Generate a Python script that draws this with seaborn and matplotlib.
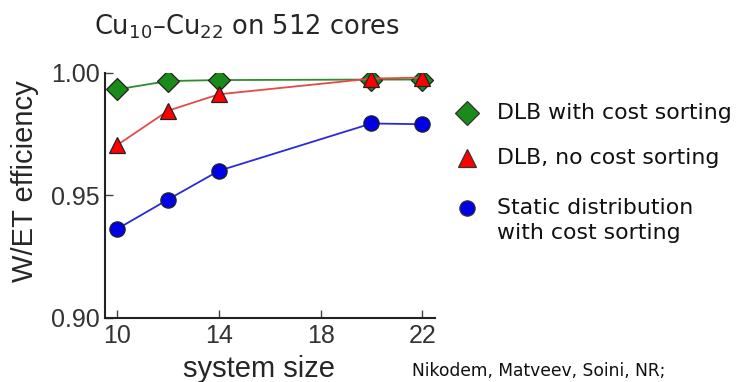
import matplotlib
matplotlib.use("Agg")
import matplotlib.pyplot as plt
import seaborn as sns
import pandas as pd
from matplotlib.lines import Line2D

# ---- data ----
system_size = [10, 12, 14, 20, 22]
dlb_sorted = [0.9932, 0.9966, 0.9970, 0.9972, 0.9972]
dlb_unsorted = [0.9705, 0.9845, 0.9912, 0.9976, 0.9980]
static_sorted = [0.9363, 0.9483, 0.9600, 0.9793, 0.9790]
x_ticks = [10, 14, 18, 22]
y_ticks = [0.90, 0.95, 1.00]
series_labels = ["DLB with cost sorting", "DLB, no cost sorting",
                 "Static distribution\nwith cost sorting"]

sns.set_style("white")
plt.rcParams["mathtext.default"] = "regular"

fig = plt.figure(figsize=(7.39, 3.82), dpi=100)
ax = fig.add_axes([105/739, 1-318/382, (435-105)/739, (318-72.7)/382])

styles = [
    (dlb_sorted, "#2e8b2e", "#1a8a1a", "D", 10.8),
    (dlb_unsorted, "#e84848", "#ff0000", "^", 11),
    (static_sorted, "#2a2ad8", "#0000e6", "o", 11),
]
for (vals, lc, fc, mk, ms) in styles:
    df = pd.DataFrame({"x": system_size, "y": vals})
    sns.lineplot(data=df, x="x", y="y", ax=ax, color=lc, marker=mk,
                 markersize=ms, markerfacecolor=fc, markeredgecolor="#222222",
                 markeredgewidth=0.9, linewidth=1.3, legend=False)

ax.set_xlim(9.52, 22.5)
ax.set_ylim(0.90, 1.00)
ax.set_xticks(x_ticks)
ax.set_yticks(y_ticks)
ax.set_yticklabels([f"{v:.2f}" for v in y_ticks])
for s in ["top", "right"]:
    ax.spines[s].set_visible(False)
for s in ["left", "bottom"]:
    ax.spines[s].set_color("#222222")
    ax.spines[s].set_linewidth(1.5)
ax.tick_params(direction="in", length=6, width=1, color="#444444",
               labelsize=18, labelcolor="#333333", pad=4,
               left=True, bottom=True)
for lab in ax.get_xticklabels() + ax.get_yticklabels():
    lab.set_family("Liberation Sans")
ax.set_xlabel("system size", fontsize=21, family="Liberation Sans")
ax.set_ylabel("W/ET efficiency", fontsize=21, family="Liberation Sans")
# label positions in axes coordinates
ax.xaxis.set_label_coords((259-105)/330, -(377-318)/245.3)
ax.xaxis.label.set_va("baseline")
ax.yaxis.set_label_coords(-(105-25)/330, (318-181)/245.3)
ax.yaxis.label.set_va("center")

fig.text(247/739, 1-27/382, r"Cu$_{10}$–Cu$_{22}$ on 512 cores",
         ha="center", va="center", fontsize=18.5, family="DejaVu Sans")

# legend (manual)
leg_y = [113, 158, 208]
markers = [("D", "#1a8a1a", 12), ("^", "#ff0000", 12.5), ("o", "#0000e6", 11)]
for (mk, fc, ms), yy, lab in zip(markers, leg_y, series_labels):
    fig.add_artist(Line2D([467/739], [1-yy/382], marker=mk, markersize=ms,
                          markerfacecolor=fc, markeredgecolor="#333333",
                          markeredgewidth=0.9, linestyle="none",
                          transform=fig.transFigure))
    fig.text(497/739, 1-(yy-10)/382, lab, ha="left", va="top", fontsize=15.8,
             family="DejaVu Sans", color="#111111", linespacing=1.3)

fig.text(412/739, 1-376/382, "Nikodem, Matveev, Soini, NR;", ha="left",
         va="baseline", fontsize=12.3, family="DejaVu Sans", color="#111111")

fig.savefig("out.png", dpi=100)
